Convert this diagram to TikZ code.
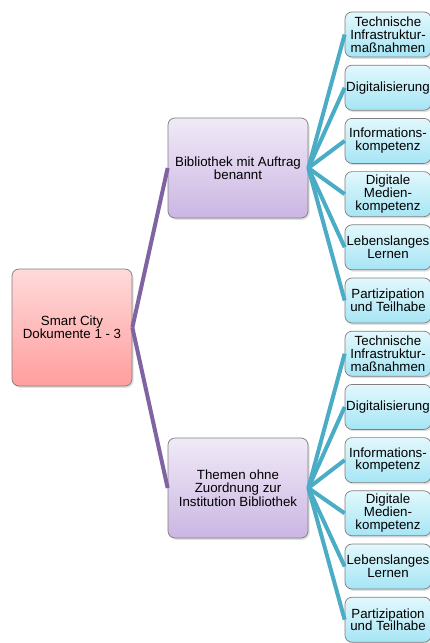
\documentclass[tikz,border=0pt]{standalone}
\usepackage{fontspec}
\setmainfont{Liberation Sans}
\usetikzlibrary{shadows}
\definecolor{rootTop}{HTML}{FFDADA}
\definecolor{rootBot}{HTML}{FF9E9E}
\definecolor{parTop}{HTML}{F0EAF7}
\definecolor{parBot}{HTML}{CBB6E3}
\definecolor{chTop}{HTML}{E2F8FC}
\definecolor{chBot}{HTML}{A6E5F5}
\definecolor{boxBorder}{HTML}{7F7F7F}
\definecolor{teal}{HTML}{4BACC6}
\definecolor{purp}{HTML}{8064A2}
\begin{document}
\begin{tikzpicture}[x=1pt,y=-1pt,
  basebox/.style={draw=boxBorder, line width=0.7pt, rounded corners=7pt, align=center,
    inner sep=0pt, font=\fontsize{13.3}{12.8}\selectfont,
    drop shadow={opacity=0.25, shadow xshift=1.5pt, shadow yshift=-1.8pt}},
  rootbox/.style={basebox, top color=rootTop, bottom color=rootBot, minimum width=120pt, minimum height=117pt},
  parbox/.style={basebox, top color=parTop, bottom color=parBot, minimum width=140pt, minimum height=100pt, font=\fontsize{13.3}{13.5}\selectfont},
  chbox/.style={basebox, top color=chTop, bottom color=chBot, minimum width=86pt, minimum height=45pt},
  tline/.style={teal, line width=4pt},
  pline/.style={purp, line width=4pt}]
\useasboundingbox (0,0) rectangle (430,643);
\node[rootbox] (root) at (72,327.5) {Smart City\\Dokumente 1 - 3};
\node[parbox] (p1) at (238,168) {Bibliothek mit Auftrag\\benannt};
\node[parbox] (p2) at (238,488) {Themen ohne\\Zuordnung zur\\Institution Bibliothek};
\foreach \i/\t in {0/{Technische\\Infrastruktur-\\maßnahmen},1/{Digitalisierung},2/{Informations-\\kompetenz},3/{Digitale\\Medien-\\kompetenz},4/{Lebenslanges\\Lernen},5/{Partizipation\\und Teilhabe}}{
  \node[chbox] (a\i) at (388,34.5+53.2*\i) {\t};
  \node[chbox] (b\i) at (388,353.7+53.2*\i) {\t};
}
\draw[pline] (root.east) -- (p1.west);
\draw[pline] (root.east) -- (p2.west);
\foreach \i in {0,...,5}{
  \draw[tline] (p1.east) -- (a\i.west);
  \draw[tline] (p2.east) -- (b\i.west);
}
\end{tikzpicture}
\end{document}
